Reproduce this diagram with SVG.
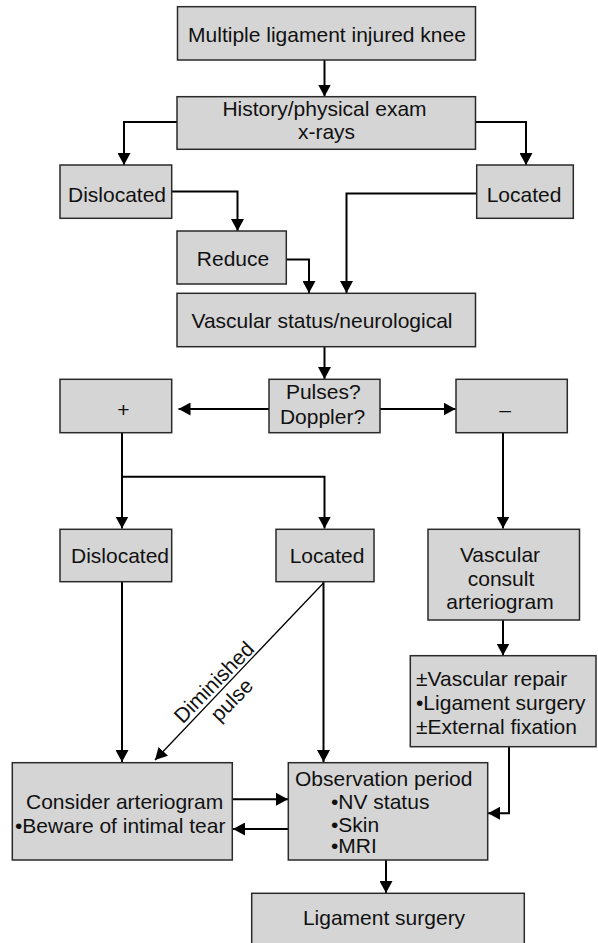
<svg xmlns="http://www.w3.org/2000/svg" width="598" height="943" viewBox="0 0 598 943">
<defs>
<style>
.box{fill:#d5d5d5;stroke:#2a2a2a;stroke-width:1.5}
text{font-family:"Liberation Sans",Arial,sans-serif;font-size:21px;fill:#111}
.c{text-anchor:middle}
.s{text-anchor:start}
.ln{fill:none;stroke:#000;stroke-width:2;marker-end:url(#ah)}
.thin{fill:none;stroke:#000;stroke-width:1.3;marker-end:url(#ah)}
.plain{fill:none;stroke:#000;stroke-width:2}
</style>
<marker id="ah" markerUnits="userSpaceOnUse" markerWidth="12" markerHeight="13" viewBox="0 0 12 13" refX="12" refY="6.5" orient="auto">
<path d="M0,0 L12,6.5 L0,13 z" fill="#000"/>
</marker>
</defs>
<rect width="598" height="943" fill="#fff"/>

<g id="connectors">
<path class="ln" d="M324.5,60 V96.5"/>
<path class="ln" d="M177,122 H124 V165"/>
<path class="ln" d="M475.5,122 H526 V165"/>
<path class="ln" d="M171.5,191.5 H237.5 V231"/>
<path class="ln" d="M286,259.5 H309 V293"/>
<path class="ln" d="M476.5,193.5 H346.5 V293"/>
<path class="ln" d="M324.5,346.7 V379"/>
<path class="ln" d="M269,409 H178.5"/>
<path class="ln" d="M380,409 H455.5"/>
<path class="ln" d="M122,432.7 V528.5"/>
<path class="ln" d="M122,476.7 H324.5 V528.5"/>
<path class="ln" d="M503,432.7 V528.5"/>
<path class="ln" d="M503,620 V655.5"/>
<path class="ln" d="M122,581.7 V762"/>
<path class="ln" d="M323.5,581.7 V762"/>
<path class="thin" d="M323.5,583 L155,760"/>
<path class="ln" d="M232.3,799.3 H288"/>
<path class="ln" d="M288.3,829 H233"/>
<path class="ln" d="M509,746.7 V813.3 H488"/>
<path class="ln" d="M386,860 V893"/>
<g transform="translate(222.6,690.8) rotate(-45.6)">
<text class="c" x="0" y="-5">Diminished</text>
<text class="c" x="0" y="20">pulse</text>
</g>
</g>

<g id="n-knee">
<rect class="box" x="177.5" y="6.7" width="298" height="53.3"/>
<text class="c" x="327" y="41.5">Multiple ligament injured knee</text>
</g>
<g id="n-history">
<rect class="box" x="177" y="96.7" width="298.5" height="52.6"/>
<text class="c" x="324.5" y="116">History/physical exam</text>
<text class="c" x="326.5" y="138.5">x-rays</text>
</g>
<g id="n-dislocated1">
<rect class="box" x="60" y="165" width="111.7" height="53.3"/>
<text class="c" x="117" y="201.7">Dislocated</text>
</g>
<g id="n-located1">
<rect class="box" x="476.7" y="165" width="96.6" height="53.3"/>
<text class="c" x="524" y="201.7">Located</text>
</g>
<g id="n-reduce">
<rect class="box" x="177" y="231" width="109.3" height="53"/>
<text class="c" x="233" y="265.5">Reduce</text>
</g>
<g id="n-vascular-status">
<rect class="box" x="177" y="293.3" width="298.5" height="53.4"/>
<text class="c" x="322" y="327.5">Vascular status/neurological</text>
</g>
<g id="n-pulses">
<rect class="box" x="269" y="379.3" width="111" height="53.4"/>
<text class="c" x="323.3" y="399.3">Pulses?</text>
<text class="c" x="322.5" y="424">Doppler?</text>
</g>
<g id="n-plus">
<rect class="box" x="60" y="379.3" width="111.7" height="53.4"/>
<text class="c" x="123.3" y="416.5">+</text>
</g>
<g id="n-minus">
<rect class="box" x="456" y="379.3" width="111.3" height="53.4"/>
<text class="c" x="505" y="417">–</text>
</g>
<g id="n-dislocated2">
<rect class="box" x="60" y="529.3" width="111.7" height="52.4"/>
<text class="c" x="120" y="563">Dislocated</text>
</g>
<g id="n-located2">
<rect class="box" x="276" y="529.3" width="98" height="52.4"/>
<text class="c" x="327" y="563">Located</text>
</g>
<g id="n-vascular-consult">
<rect class="box" x="428" y="529.3" width="151.5" height="90.7"/>
<text class="c" x="500" y="562">Vascular</text>
<text class="c" x="501" y="585.5">consult</text>
<text class="c" x="500" y="609">arteriogram</text>
</g>
<g id="n-repair">
<rect class="box" x="410.3" y="655.7" width="185.7" height="91"/>
<text class="s" x="416" y="686">±Vascular repair</text>
<text class="s" x="416" y="710">•Ligament surgery</text>
<text class="s" x="416" y="734">±External fixation</text>
</g>
<g id="n-consider">
<rect class="box" x="12.3" y="762.7" width="220" height="97.3"/>
<text class="s" x="26" y="809">Consider arteriogram</text>
<text class="s" x="15" y="832.7">•Beware of intimal tear</text>
</g>
<g id="n-observation">
<rect class="box" x="288.3" y="762.7" width="199.4" height="97.3"/>
<text class="s" x="295" y="785.5">Observation period</text>
<text class="s" x="331" y="809">•NV status</text>
<text class="s" x="331" y="831.7">•Skin</text>
<text class="s" x="331" y="853.3">•MRI</text>
</g>
<g id="n-ligament-surgery">
<rect class="box" x="251.7" y="893.3" width="272.6" height="60"/>
<text class="c" x="384" y="925">Ligament surgery</text>
</g>
</svg>
